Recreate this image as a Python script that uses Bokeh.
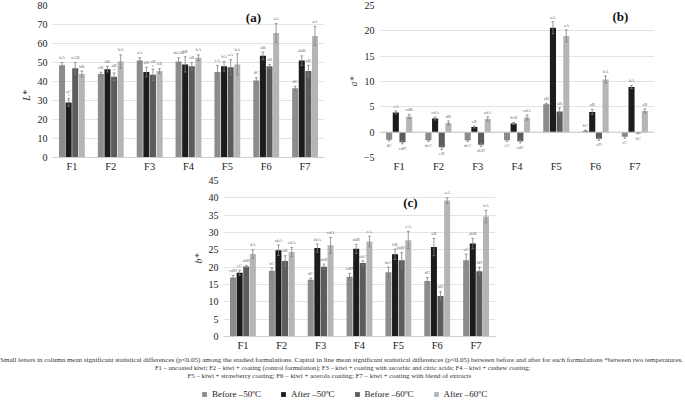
import math
import numpy as np
from bokeh.plotting import figure
from bokeh.models import (FactorRange, Range1d, ColumnDataSource, Label, Span,
                          Legend, LegendItem, SingleIntervalTicker)
from bokeh.transform import dodge
from bokeh.layouts import column, row
from bokeh.embed import file_html
from bokeh.resources import INLINE
from bokeh.core.properties import value

# ---------------- data ----------------
formulations = ["F1", "F2", "F3", "F4", "F5", "F6", "F7"]
series_names = ["Before \u201350\u00baC", "After \u201350\u00baC", "Before \u201360\u00baC", "After \u201360\u00baC"]

# (a) L*
L_before50 = [48.5, 44.0, 51.0, 50.5, 45.0, 40.5, 36.5]
L_after50 = [29.0, 46.5, 45.0, 49.0, 48.0, 53.5, 51.0]
L_before60 = [47.0, 42.5, 43.5, 48.0, 47.5, 48.0, 45.5]
L_after60 = [44.0, 50.5, 45.5, 52.5, 49.0, 65.5, 64.0]
L_before50_err = [1.5, 0.8, 1.5, 2.0, 3.5, 1.5, 1.0]
L_after50_err = [2.0, 1.5, 2.5, 4.0, 2.5, 2.0, 2.5]
L_before60_err = [3.0, 2.0, 3.0, 2.0, 4.0, 1.0, 3.0]
L_after60_err = [1.5, 3.5, 1.2, 1.5, 5.5, 5.0, 5.0]
L_before50_sig = ["bA", "cB", "aA", "abAB", "cA", "dC", "dC"]
L_after50_sig = ["aC\n*", "bB", "bB", "bB", "bA", "aB", "abB"]
L_before60_sig = ["aAB", "aB\n*", "aB\n*", "aB", "aA", "aB", "aB"]
L_after60_sig = ["bB", "bA", "bB", "bA", "bA", "aA", "aA"]

# (b) a*
a_before50 = [-1.5, -1.6, -1.6, -1.6, 5.5, 0.3, -0.9]
a_after50 = [3.9, 2.7, 1.0, 1.7, 20.6, 4.0, 8.9]
a_before60 = [-2.0, -3.0, -2.5, -1.8, 4.1, -1.3, -0.2]
a_after60 = [3.1, 1.8, 2.6, 2.9, 19.0, 10.4, 4.2]
a_before50_err = [0.2, 0.2, 0.2, 0.2, 0.2, 0.1, 0.3]
a_after50_err = [0.3, 0.3, 0.2, 0.2, 1.2, 0.5, 0.3]
a_before60_err = [0.3, 0.4, 0.3, 0.3, 0.7, 0.3, 0.1]
a_after60_err = [0.4, 0.4, 0.4, 0.5, 1.2, 0.7, 0.4]
a_before50_sig = ["dC", "deC", "deC", "eC", "aB", "bC", "cC"]
a_after50_sig = ["cA", "cdA", "eB", "deB", "aA", "aB", "bA"]
a_before60_sig = ["cdD", "eD", "deD", "cdC", "aB", "cD", "bC"]
a_after60_sig = ["cdB", "dB", "cdA", "cdA", "aA", "bA", "cB"]

# (c) b*
b_before50 = [17.0, 19.0, 16.4, 17.2, 18.5, 16.0, 22.0]
b_after50 = [18.4, 24.9, 25.5, 25.3, 23.7, 25.8, 26.8]
b_before60 = [20.2, 21.8, 20.1, 21.2, 22.0, 11.7, 18.8]
b_after60 = [23.8, 24.4, 26.3, 27.4, 27.8, 39.2, 34.6]
b_before50_err = [0.6, 0.8, 0.4, 1.0, 1.5, 1.0, 1.8]
b_after50_err = [0.7, 1.5, 1.2, 1.3, 1.5, 2.5, 1.5]
b_before60_err = [0.3, 1.5, 0.8, 0.6, 2.2, 1.2, 1.2]
b_after60_err = [1.2, 1.3, 2.3, 1.5, 2.5, 0.8, 1.8]
b_before50_sig = ["cdD", "bC", "dC", "cdD", "bcC", "dC", "aC"]
b_after50_sig = ["eC", "abA", "abA", "abB", "bB", "aB", "abB"]
b_before60_sig = ["abB", "aB", "abB", "abC", "abBC", "bD", "bD"]
b_after60_sig = ["dA", "cdA", "cdA", "cA", "cA", "aA", "bA"]

caption_lines = [
    "Small letters in column mean significant statistical differences (p<0.05) among the studied formulations. Capital in line mean significant statistical differences (p<0.05) between before and after for each formulations *between two temperatures.",
    "F1 \u2013 uncoated kiwi;  F2 \u2013 kiwi + coating (control formulation);  F3 \u2013 kiwi + coating with ascorbic and citric acids;  F4 \u2013 kiwi + cashew coating;",
    "F5 \u2013 kiwi + strawberry coating;  F6 \u2013 kiwi + acerola coating;  F7 \u2013 kiwi + coating with blend of extracts",
]

# ---------------- style ----------------
COLORS = ["#8c8c8c", "#1c1c1c", "#5c5c5c", "#b5b5b5"]
OFFSETS = [-0.255, -0.085, 0.085, 0.255]
BAR_W = 0.155
CAP = 0.035
FONT = "Liberation Serif"
ERR_COL = "#808080"


def make_panel(series, errs, sigs, y0, y1, interval, ylabel, gap, tag, tag_xy,
               frame_w, frame_h, margin_left, mbr, mbt, mbb, zero_line=False):
    p = figure(x_range=FactorRange(factors=formulations, range_padding=0),
               y_range=Range1d(y0, y1), frame_width=frame_w, frame_height=frame_h,
               output_backend="svg", toolbar_location=None,
               min_border_left=0, min_border_right=mbr,
               min_border_top=mbt, min_border_bottom=mbb,
               margin=(0, 0, 0, margin_left))
    p.frame_align = False
    p.outline_line_color = None
    p.background_fill_color = "white"
    p.xgrid.grid_line_color = None
    p.ygrid.grid_line_color = "#dcdcdc"
    p.ygrid.grid_line_width = 0.8
    p.yaxis.ticker = SingleIntervalTicker(interval=interval)
    p.yaxis.axis_line_color = None
    p.yaxis.major_tick_line_color = None
    p.yaxis.minor_tick_line_color = None
    p.yaxis.major_tick_out = 0
    p.yaxis.minor_tick_out = 0
    p.yaxis.major_label_standoff = 5
    if ylabel:
        p.yaxis.axis_label = ylabel
        p.yaxis.axis_label_text_font = FONT
        p.yaxis.axis_label_text_font_style = "italic"
        p.yaxis.axis_label_text_font_size = "10px"
        p.yaxis.axis_label_standoff = 2
    p.xaxis.major_tick_line_color = None
    p.xaxis.minor_tick_line_color = None
    p.xaxis.major_tick_out = 0
    p.xaxis.axis_line_color = None if zero_line else "#cfcfcf"
    p.xaxis.major_label_standoff = 3
    for ax in (p.xaxis, p.yaxis):
        ax.major_label_text_font = FONT
        ax.major_label_text_color = "#222222"
    p.yaxis.major_label_text_font_size = "10px"
    p.xaxis.major_label_text_font_size = "10.5px"
    if y0 < 0:
        p.yaxis.major_label_overrides = {y0: "\u2212" + str(abs(y0))}
    if zero_line:
        p.add_layout(Span(location=0, dimension="width", line_color="#c8c8c8", line_width=1))

    for i in range(4):
        vals = np.array(series[i], dtype=float)
        e = np.array(errs[i], dtype=float)
        ly = np.where(vals >= 0, vals + e + gap, vals - e - gap)
        src = ColumnDataSource(dict(f=formulations, top=vals, lo=vals - e, hi=vals + e,
                                    ly=ly, lab=sigs[i]))
        off = OFFSETS[i]
        xd = dodge("f", off, range=p.x_range)
        p.vbar(x=xd, top="top", bottom=0, width=BAR_W, source=src,
               fill_color=COLORS[i], line_color=None)
        p.segment(x0=xd, y0="lo", x1=xd, y1="hi", source=src,
                  line_color=ERR_COL, line_width=0.8)
        for col in ("lo", "hi"):
            p.segment(x0=dodge("f", off - CAP, range=p.x_range), y0=col,
                      x1=dodge("f", off + CAP, range=p.x_range), y1=col,
                      source=src, line_color=ERR_COL, line_width=0.8)
        p.text(x=xd, y="ly", text="lab", source=src, text_font=value(FONT),
               text_font_size=value("4.6px"), text_align="center",
               text_baseline="middle", text_color="#6e6e6e", text_line_height=0.9)

    p.add_layout(Label(x=tag_xy[0], y=tag_xy[1], text=tag, text_font=FONT,
                       text_font_style="bold", text_font_size="13px",
                       text_align="center", text_baseline="middle",
                       text_color="#111111"))
    return p


# small strip that carries the L* axis title of panel (a)
lab_a = figure(width=34, height=175, x_range=Range1d(0, 34), y_range=Range1d(175, 0),
               output_backend="svg", toolbar_location=None, x_axis_type=None,
               y_axis_type=None, min_border=0)
lab_a.frame_align = False
lab_a.outline_line_color = None
lab_a.xgrid.visible = False
lab_a.ygrid.visible = False
lab_a.add_layout(Label(x=26, y=95, text="L*", angle=math.pi / 2, text_font=FONT,
                       text_font_style="italic", text_font_size="10px",
                       text_align="center", text_baseline="middle",
                       text_color="#222222"))

pa = make_panel([L_before50, L_after50, L_before60, L_after60],
                [L_before50_err, L_after50_err, L_before60_err, L_after60_err],
                [L_before50_sig, L_after50_sig, L_before60_sig, L_after60_sig],
                0, 80, 10, None, 2.6, "(a)", (5.17, 73.8),
                272, 152, 0, 15, 5, 18)

pb = make_panel([a_before50, a_after50, a_before60, a_after60],
                [a_before50_err, a_after50_err, a_before60_err, a_after60_err],
                [a_before50_sig, a_after50_sig, a_before60_sig, a_after60_sig],
                -5, 25, 5, "a*", 0.9, "(b)", (6.13, 22.8),
                275, 152, 5, 33, 5, 18, zero_line=True)

pc = make_panel([b_before50, b_after50, b_before60, b_after60],
                [b_before50_err, b_after50_err, b_before60_err, b_after60_err],
                [b_before50_sig, b_after50_sig, b_before60_sig, b_after60_sig],
                0, 45, 5, "b*", 1.4, "(c)", (4.81, 38.6),
                272, 156, 189, 10, 5, 15)

# ---------------- caption + legend ----------------
cap = figure(width=685, height=52, x_range=Range1d(0, 685), y_range=Range1d(403, 351),
             output_backend="svg", toolbar_location=None, x_axis_type=None,
             y_axis_type=None, min_border=0)
cap.frame_align = False
cap.outline_line_color = None
cap.xgrid.visible = False
cap.ygrid.visible = False
caption_y = [357, 365, 373]
caption_x = [341, 344.5, 330.5]
caption_size = ["7.0px", "6.6px", "6.9px"]
for t, xx, yy, fs in zip(caption_lines, caption_x, caption_y, caption_size):
    cap.add_layout(Label(x=xx, y=yy, text=t, text_font=FONT, text_font_size=fs,
                         text_align="center", text_baseline="middle",
                         text_color="#333333"))

legend_renderers = []
for c in COLORS:
    legend_renderers.append(cap.rect(x=[0], y=[0], width=0, height=0,
                                     fill_color=c, line_color=None))
legend = Legend(items=[LegendItem(label=n, renderers=[r])
                       for n, r in zip(series_names, legend_renderers)],
                orientation="horizontal", location=(201, 6),
                glyph_width=6, glyph_height=6, label_standoff=5, spacing=19,
                label_text_font=FONT, label_text_font_size="9px",
                label_text_color="#222222", label_height=10, padding=0, margin=0,
                border_line_color=None, background_fill_alpha=0)
cap.add_layout(legend)

layout = column(row(lab_a, pa, pb), pc, cap)
open("out.html", "w").write(file_html(layout, INLINE))
